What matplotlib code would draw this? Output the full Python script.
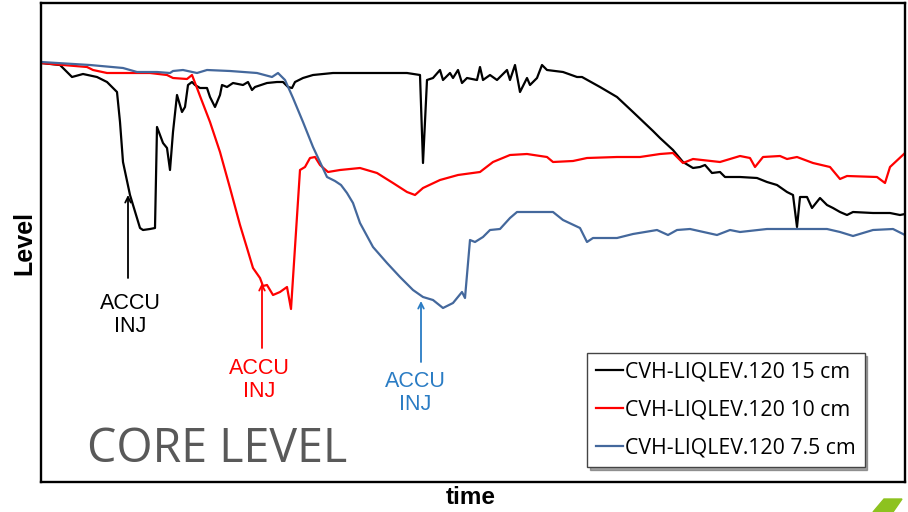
import matplotlib
matplotlib.use("Agg")
import matplotlib.pyplot as plt
from matplotlib.patches import Polygon

# core level traces (time in arbitrary units, level in arbitrary units)
t_15 = [41, 60, 72, 83, 97, 107, 113, 117, 120, 123, 130, 140, 143, 150, 155, 157, 163, 167, 170, 173,
        177, 182, 185, 188, 192, 195, 200, 207, 210, 215, 220, 222, 227, 233, 243, 248, 252, 255, 267, 277,
        283, 288, 292, 295, 303, 313, 333, 380, 407, 420, 423, 427, 433, 440, 443, 450, 453, 458, 462, 467,
        477, 480, 483, 490, 497, 507, 510, 515, 520, 527, 530, 537, 542, 547, 563, 577, 582, 600, 617, 633,
        653, 660, 673, 683, 693, 700, 705, 712, 720, 725, 740, 757, 767, 777, 787, 793, 797, 800, 807, 812,
        820, 827, 833, 840, 847, 853, 873, 890, 900, 905]
lv_15 = [420, 418, 406, 409, 406, 401, 395, 391, 361, 321, 288, 255, 253, 254, 255, 356, 340, 335, 313, 351,
         388, 371, 376, 398, 401, 398, 395, 395, 386, 376, 388, 398, 396, 400, 398, 401, 393, 396, 400, 401,
         401, 396, 395, 401, 405, 408, 410, 410, 410, 408, 320, 403, 405, 413, 403, 410, 405, 413, 400, 405,
         403, 416, 403, 408, 403, 413, 403, 418, 391, 405, 398, 405, 418, 413, 411, 406, 406, 396, 386, 371,
         352, 345, 333, 321, 315, 316, 318, 310, 311, 306, 306, 305, 301, 298, 291, 288, 256, 286, 286, 275,
         285, 278, 275, 271, 268, 271, 270, 270, 268, 269]

t_10 = [41, 63, 87, 93, 107, 127, 150, 167, 173, 187, 192, 197, 200, 210, 220, 230, 240, 247, 253, 260,
        263, 267, 273, 280, 287, 291, 300, 305, 310, 315, 320, 328, 340, 360, 377, 393, 407, 415, 423, 440,
        458, 480, 493, 510, 527, 547, 553, 573, 587, 617, 640, 660, 673, 683, 693, 720, 740, 750, 755, 763,
        780, 787, 797, 813, 830, 840, 847, 877, 885, 890, 905]
lv_10 = [420, 418, 416, 413, 410, 410, 410, 408, 405, 404, 408, 395, 387, 361, 331, 295, 258, 235, 215, 205,
         197, 198, 188, 191, 196, 174, 313, 316, 325, 326, 318, 311, 313, 315, 310, 300, 291, 288, 295, 303,
         308, 311, 321, 328, 329, 326, 321, 322, 325, 326, 326, 329, 330, 320, 324, 321, 327, 325, 316, 326,
         327, 324, 326, 320, 316, 304, 307, 306, 300, 316, 330]

t_75 = [41, 90, 123, 137, 157, 170, 173, 183, 197, 207, 230, 257, 272, 278, 285, 293, 303, 313, 320, 327,
        335, 341, 347, 353, 360, 373, 387, 400, 413, 423, 433, 443, 453, 462, 465, 470, 475, 483, 490, 500,
        510, 517, 533, 553, 563, 580, 587, 593, 617, 633, 657, 668, 677, 690, 717, 730, 740, 767, 827, 840,
        853, 873, 893, 905]
lv_75 = [421, 418, 415, 411, 411, 410, 412, 413, 410, 413, 412, 410, 406, 410, 403, 385, 361, 336, 321, 306,
         302, 298, 290, 280, 260, 236, 220, 206, 193, 186, 183, 175, 180, 191, 185, 243, 241, 246, 253, 254,
         265, 271, 271, 271, 263, 255, 241, 245, 245, 249, 253, 248, 253, 254, 248, 253, 251, 254, 254, 251,
         247, 253, 254, 248]

labels = ["CVH-LIQLEV.120 15 cm", "CVH-LIQLEV.120 10 cm", "CVH-LIQLEV.120 7.5 cm"]
colors = ["#000000", "#ff0000", "#44689c"]

fig = plt.figure(figsize=(9.08, 5.12), dpi=100)
ax = fig.add_axes([41/908, 30/512, 864/908, 479/512])

ax.plot(t_15, lv_15, color=colors[0], lw=1.6, label=labels[0])
ax.plot(t_10, lv_10, color=colors[1], lw=1.6, label=labels[1])
ax.plot(t_75, lv_75, color=colors[2], lw=1.6, label=labels[2])

ax.set_xlim(41, 905)
ax.set_ylim(1, 480)
ax.set_xticks([])
ax.set_yticks([])
for s in ax.spines.values():
    s.set_linewidth(1.7)

# accumulator injection markers
annots = [(128, 205, 288, 168, "#000000"),
          (262, 135, 200, 103, "#ff0000"),
          (421, 121, 182, 90, "#2a7cc4")]
for x, y0, y1, ytxt, c in annots:
    ax.annotate("", xy=(x, y1), xytext=(x, y0),
                arrowprops=dict(arrowstyle="->", color=c, lw=1.3, shrinkA=0, shrinkB=0))
for (x, y0, y1, ytxt, c), xt in zip(annots, [130, 259, 415]):
    ax.text(xt, ytxt, "ACCU\nINJ", color=c, ha="center", va="center",
            fontsize=15.5, family="Liberation Sans", linespacing=1.15)

ax.text(0.053, 0.042, "CORE LEVEL", transform=ax.transAxes, color="#595959",
        fontsize=33.5, family="Open Sans", va="baseline", ha="left")

leg = ax.legend(loc="lower left", bbox_to_anchor=(0.632, 0.031), borderaxespad=0,
                frameon=True, fancybox=False, shadow=True, framealpha=1,
                edgecolor="#444444", prop=dict(family="Open Sans", size=15.3),
                handlelength=1.3, handletextpad=0.1, labelspacing=0.8,
                borderpad=0.4)
leg.get_frame().set_linewidth(1.0)

fig.text(24/908, 1 - 243/512, "Level", rotation=90, ha="center", va="center",
         fontsize=18, fontweight="bold", family="Liberation Sans")
fig.text(471/908, 1 - 497/512, "time", ha="center", va="center",
         fontsize=17.5, fontweight="bold", family="Liberation Sans")

fig.patches.append(Polygon([(873/908, 0), (884/908, 13/512), (902/908, 13/512), (893/908, 0)],
                           closed=True, transform=fig.transFigure, color="#8dc21f"))

fig.savefig("out.png", dpi=100)
